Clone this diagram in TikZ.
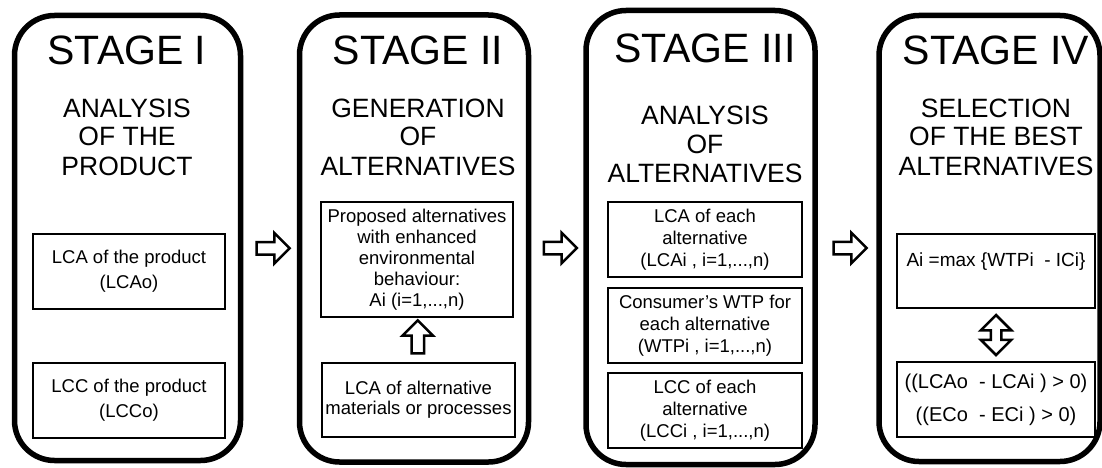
\documentclass[tikz,border=0pt]{standalone}
\usepackage{fontspec}
\setmainfont{Liberation Sans}
\usetikzlibrary{
  calc,
  shapes.arrows
}
\tikzset{
  % Shared values that are assigned to different keys in the styles below.
  globals/frame line width/.initial=5.5pt,
  globals/box line width/.initial=2pt,
  globals/arrow line width/.initial=2.5pt,
%
  % For the rounded frame of each stage.
  stage/.style={
    draw,
    line width=\pgfkeysvalueof{/tikz/globals/frame line width},
    rounded corners=40pt,
    inner sep=0pt},
%
  % For the large stage titles.
  title/.style={
    font={\fontsize{41pt}{41pt}\selectfont},
    inner sep=0pt,
    anchor=base},
%
  % For the headings below the titles.  The base anchor sits on the last
  % line.
  heading/.style={
    font={\fontsize{26.5pt}{29pt}\selectfont},
    align=center,
    inner sep=0pt,
    anchor=base},
%
  % For the boxes inside a stage.
  box/.style={
    draw,
    line width=\pgfkeysvalueof{/tikz/globals/box line width},
    font={\fontsize{18.5pt}{22pt}\selectfont},
    align=center,
    inner sep=0pt,
    minimum height=75pt},
%
  % For hollow block arrows.
  block arrow/.style={
    single arrow,
    draw,
    fill=white,
    line width=\pgfkeysvalueof{/tikz/globals/arrow line width},
    inner sep=5pt,
    single arrow head extend=9pt,
    minimum height=33pt},
%
  % For hollow double arrows.
  block double arrow/.style={
    double arrow,
    draw,
    fill=white,
    line width=\pgfkeysvalueof{/tikz/globals/arrow line width},
    inner sep=4pt,
    double arrow head extend=10pt,
    minimum height=40pt}
}

\begin{document}
\begin{tikzpicture}[x=1pt,y=-1pt]
  \useasboundingbox (0,0) rectangle (1102,468);

  % Frames.
  \node[stage, minimum width=226pt, minimum height=445pt] (s1) at (127.5,238) {};
  \node[stage, minimum width=229pt, minimum height=447pt] (s2) at (414,238.5) {};
  \node[stage, minimum width=229pt, minimum height=454pt] (s3) at (700.5,237.5) {};
  \node[stage, minimum width=221pt, minimum height=446pt] (s4) at (989.5,238.5) {};

  % Titles and headings.
  \node[title] (t1) at (127,65) {STAGE I};
  \node[title] (t2) at (418,65) {STAGE II};
  \node[title] (t3) at (705,63) {STAGE III};
  \node[title] (t4) at (996,65) {STAGE IV};

  \node[heading] (h1) at (127,175) {ANALYSIS\\OF THE\\PRODUCT};
  \node[heading] (h2) at (418,175) {GENERATION\\OF\\ALTERNATIVES};
  \node[heading] (h3) at (705,182) {ANALYSIS\\OF\\ALTERNATIVES};
  \node[heading] (h4) at (996,175) {SELECTION\\OF THE BEST\\ALTERNATIVES};

  % Stage I.
  \node[box, minimum width=192pt,
        font={\fontsize{18.5pt}{25pt}\selectfont}] (lcao) at (129,271)
    {LCA of the product\\(LCAo)};
  \node[box, minimum width=192pt,
        font={\fontsize{18.5pt}{25pt}\selectfont}] (lcco) at (129,400.5)
    {LCC of the product\\(LCCo)};

  % Stage II.
  \node[box, minimum width=192pt, minimum height=115pt,
        font={\fontsize{18.5pt}{21pt}\selectfont}] (alts) at (417,259.5)
    {Proposed alternatives\\with enhanced\\environmental\\behaviour:\\Ai (i=1,...,n)};
  \node[box, minimum width=193pt, minimum height=74pt,
        font={\fontsize{18.5pt}{20pt}\selectfont}] (lcamat) at (418.5,400)
    {LCA of alternative\\materials or processes};
  \node[block arrow, rotate=90] (up) at ($(lcamat.north)!0.5!(alts.south)$) {};

  % Stage III.
  \node[box, minimum width=194pt] (lcai) at (705,239.5)
    {LCA of each\\alternative\\(LCAi , i=1,...,n)};
  \node[box, minimum width=194pt] (wtpi) at (705,325.5)
    {Consumer’s WTP for\\each alternative\\(WTPi , i=1,...,n)};
  \node[box, minimum width=194pt] (lcci) at (705,410.5)
    {LCC of each\\alternative\\(LCCi , i=1,...,n)};

  % Stage IV.
  \node[box, minimum width=198pt, minimum height=74pt,
        font={\fontsize{19pt}{22pt}\selectfont}] (best) at (996,271)
    {Ai =max \{WTPi\ \ - ICi\}\\~};
  \node[box, minimum width=198pt,
        font={\fontsize{20pt}{22pt}\selectfont}] (cond) at (996,399.5)
    {((LCAo\ \ - LCAi ) > 0)\\[11pt]((ECo\ \ - ECi ) > 0)};
  \node[block double arrow, rotate=90] (eq) at ($(best.south)!0.5!(cond.north)$) {};

  % Arrows between the stages.
  \node[block arrow] (a12) at ($(s1.east)!0.5!(s2.west)+(0,10)$) {};
  \node[block arrow] (a23) at ($(s2.east)!0.5!(s3.west)+(0,10)$) {};
  \node[block arrow] (a34) at ($(s3.east)!0.5!(s4.west)+(0,10)$) {};
\end{tikzpicture}
\end{document}
